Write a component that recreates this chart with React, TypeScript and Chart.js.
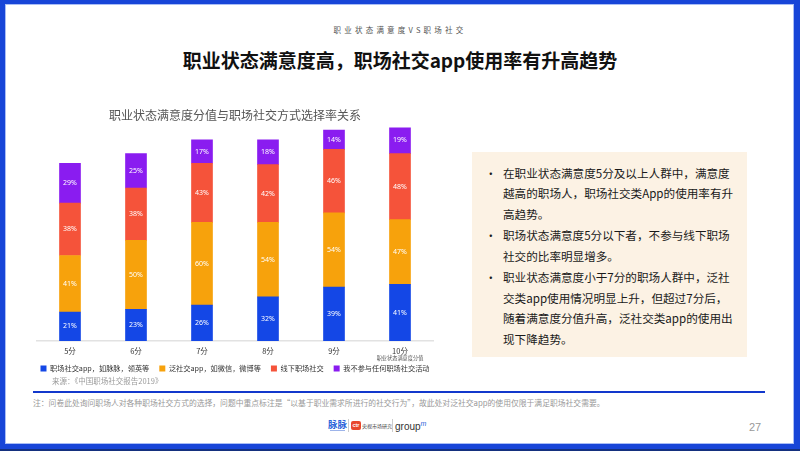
import React, { useEffect, useRef } from "react";
import { Chart, registerables } from "chart.js";

Chart.register(...registerables);

// ---- data ----
const categories = ["5分", "6分", "7分", "8分", "9分", "10分"];
const axisNote = "职业状态满意度分值";
const seriesNames = [
  "职场社交app，如脉脉，领英等",
  "泛社交app，如微信，微博等",
  "线下职场社交",
  "我不参与任何职场社交活动",
];
const professionalApp = [21, 23, 26, 32, 39, 41];
const generalApp = [41, 50, 60, 54, 54, 47];
const offlineSocial = [38, 38, 43, 42, 46, 48];
const noSocial = [29, 25, 17, 18, 14, 19];
const yMax = 155;

const chartTitle = "职业状态满意度分值与职场社交方式选择率关系";
const sourceText = "来源：《中国职场社交报告2019》";
const pageHeader = "职业状态满意度VS职场社交";
const mainTitle = "职业状态满意度高，职场社交app使用率有升高趋势";
const bulletParagraphs = [
  ["在职业状态满意度5分及以上人群中，满意度", "越高的职场人，职场社交类App的使用率有升", "高趋势。"],
  ["职场状态满意度5分以下者，不参与线下职场", "社交的比率明显增多。"],
  ["职业状态满意度小于7分的职场人群中，泛社", "交类app使用情况明显上升，但超过7分后，", "随着满意度分值升高，泛社交类app的使用出", "现下降趋势。"],
];
const noteText =
  "注：问卷此处询问职场人对各种职场社交方式的选择，问题中重点标注是“以基于职业需求所进行的社交行为”，故此处对泛社交app的使用仅限于满足职场社交需要。";
const pageNumber = "27";

// ---- styles ----
const seriesColors = ["#1447E6", "#F7A20C", "#F5533A", "#8A1CF0"];
const CJK = "'Noto Sans CJK SC', 'Noto Sans', sans-serif";
const SIDE = 17;

const valueLabelPlugin = {
  id: "valueLabels",
  afterDatasetsDraw(chart: any) {
    const ctx = chart.ctx;
    ctx.save();
    ctx.font = `7px 'Noto Sans', sans-serif`;
    ctx.fillStyle = "#ffffff";
    ctx.textAlign = "center";
    ctx.textBaseline = "middle";
    chart.data.datasets.forEach((ds: any, i: number) => {
      const meta = chart.getDatasetMeta(i);
      meta.data.forEach((bar: any, j: number) => {
        const p = bar.getProps(["x", "y", "base"], true);
        ctx.fillText(ds.data[j] + "%", p.x, (p.y + p.base) / 2);
      });
    });
    ctx.restore();
  },
};

const axisNotePlugin = {
  id: "axisNote",
  afterDraw(chart: any) {
    const xs = chart.scales.x;
    const ctx = chart.ctx;
    ctx.save();
    ctx.font = `5.2px ${CJK}`;
    ctx.fillStyle = "#555";
    ctx.textAlign = "center";
    ctx.textBaseline = "middle";
    const x = xs.getPixelForValue(categories.length - 1);
    ctx.fillText(axisNote, x, xs.bottom + 3.5);
    ctx.restore();
  },
};

const spacerAxis = (position: string, extra: any = {}) => ({
  position,
  display: true,
  grid: { display: false, drawTicks: false },
  border: { display: false },
  ticks: { display: false },
  afterFit: (s: any) => {
    s.width = SIDE;
  },
  ...extra,
});

function StackedChart() {
  const ref = useRef<HTMLCanvasElement | null>(null);
  useEffect(() => {
    if (!ref.current) return;
    const values = [professionalApp, generalApp, offlineSocial, noSocial];
    const chart = new Chart(ref.current, {
      type: "bar",
      data: {
        labels: categories,
        datasets: values.map((v, i) => ({
          label: seriesNames[i],
          data: v,
          backgroundColor: seriesColors[i],
          borderWidth: 0,
          barThickness: 21,
        })),
      },
      options: {
        responsive: false,
        animation: false,
        devicePixelRatio: 1,
        layout: { padding: 0 },
        plugins: {
          title: {
            display: true,
            text: chartTitle,
            color: "#555",
            font: { family: CJK, size: 12, weight: "normal" },
            padding: { top: 4, bottom: 5 },
          },
          legend: {
            position: "bottom",
            labels: {
              boxWidth: 6,
              boxHeight: 6,
              padding: 10,
              color: "#333",
              font: { family: CJK, size: 7.2 },
            },
          },
          tooltip: { enabled: false },
        },
        scales: {
          x: {
            stacked: true,
            grid: { display: false, drawTicks: false },
            border: { display: true, color: "#e2e2e2", width: 1.5 },
            ticks: { color: "#333", font: { family: CJK, size: 7.5 }, padding: 5.5 },
            afterFit: (s: any) => {
              s.height = 13.9;
            },
          },
          y: spacerAxis("left", { stacked: true, min: 0, max: yMax }),
          y2: spacerAxis("right", { min: 0, max: 1 }),
        },
      },
      plugins: [valueLabelPlugin, axisNotePlugin],
    } as any);
    return () => chart.destroy();
  }, []);
  return (
    <canvas
      ref={ref}
      width={396 + 2 * SIDE}
      height={278}
      style={{ position: "absolute", left: 37 - SIDE, top: 104, width: 396 + 2 * SIDE, height: 278, display: "block" }}
    />
  );
}

export default function App() {
  const lh = 20.5;
  return (
    <div
      style={{
        position: "fixed",
        left: 0,
        top: 0,
        width: 800,
        height: 451,
        background: "#fff",
        overflow: "hidden",
        fontFamily: CJK,
      }}
    >
      {/* header */}
      <div
        style={{
          position: "absolute",
          left: 0,
          width: 800,
          top: 24,
          lineHeight: "12px",
          fontSize: 7.5,
          letterSpacing: 3.2,
          textAlign: "center",
          color: "#555",
        }}
      >
        {pageHeader}
      </div>
      <div
        style={{
          position: "absolute",
          left: 0,
          width: 800,
          top: 48,
          lineHeight: "24px",
          fontSize: 19,
          fontWeight: 700,
          textAlign: "center",
          color: "#111",
        }}
      >
        {mainTitle}
      </div>

      <StackedChart />

      <div
        style={{
          position: "absolute",
          left: 52,
          top: 375,
          lineHeight: "11px",
          fontSize: 7.5,
          color: "#9a9a9a",
          whiteSpace: "nowrap",
        }}
      >
        {sourceText}
      </div>

      {/* right box */}
      <div
        style={{
          position: "absolute",
          left: 472,
          top: 152,
          width: 275,
          height: 205,
          background: "#FCF2E4",
        }}
      >
        <div style={{ position: "absolute", left: 0, top: 10.75, width: 275 }}>
          {bulletParagraphs.map((p, i) => (
            <div key={i} style={{ position: "relative", marginBottom: 1 }}>
              <div
                style={{
                  position: "absolute",
                  left: 13,
                  top: 0,
                  fontSize: 11.6,
                  lineHeight: lh + "px",
                  color: "#1a1a1a",
                }}
              >
                •
              </div>
              {p.map((line, k) => (
                <div
                  key={k}
                  style={{
                    marginLeft: 31,
                    fontSize: 11.6,
                    lineHeight: lh + "px",
                    color: "#1a1a1a",
                    whiteSpace: "nowrap",
                  }}
                >
                  {line}
                </div>
              ))}
            </div>
          ))}
        </div>
      </div>

      {/* footer */}
      <div style={{ position: "absolute", left: 33, top: 391, width: 732, height: 2, background: "#1238CC" }} />
      <div
        style={{
          position: "absolute",
          left: 33,
          top: 398,
          lineHeight: "10px",
          fontSize: 7.8,
          color: "#999",
          whiteSpace: "nowrap",
        }}
      >
        {noteText}
      </div>

      {/* logos */}
      <div style={{ position: "absolute", left: 328, top: 418, fontSize: 9.5, lineHeight: "12px", color: "#2A62D9", fontWeight: 700 }}>
        脉脉
      </div>
      <div style={{ position: "absolute", left: 330, top: 430, width: 15, height: 1, background: "#9db4ea" }} />
      <div style={{ position: "absolute", left: 348, top: 419, width: 1, height: 13, background: "#ccc" }} />
      <div
        style={{
          position: "absolute",
          left: 351,
          top: 421,
          width: 10,
          height: 9,
          borderRadius: 2,
          background: "#E8462C",
          color: "#fff",
          fontSize: 5.5,
          lineHeight: "9px",
          textAlign: "center",
          fontFamily: "'Liberation Sans', sans-serif",
          fontWeight: 700,
        }}
      >
        ctr
      </div>
      <div style={{ position: "absolute", left: 362, top: 422, fontSize: 5, lineHeight: "7px", color: "#444", whiteSpace: "nowrap" }}>
        央视市场研究
      </div>
      <div style={{ position: "absolute", left: 392, top: 419, width: 1, height: 13, background: "#ccc" }} />
      <div
        style={{
          position: "absolute",
          left: 395,
          top: 418,
          fontSize: 10,
          lineHeight: "12px",
          color: "#333",
          fontFamily: "'Liberation Sans', sans-serif",
          whiteSpace: "nowrap",
        }}
      >
        group<sup style={{ fontSize: 7, color: "#2A62D9", fontStyle: "italic" }}>m</sup>
      </div>

      <div
        style={{
          position: "absolute",
          left: 749,
          top: 420,
          fontSize: 11,
          lineHeight: "14px",
          color: "#999",
          fontFamily: "'Liberation Sans', sans-serif",
        }}
      >
        {pageNumber}
      </div>

      {/* frame */}
      <div
        style={{
          position: "absolute",
          left: 0,
          top: 0,
          width: 800,
          height: 451,
          boxSizing: "border-box",
          borderStyle: "solid",
          borderColor: "#1745D8",
          borderWidth: "4px 6px 7px 5px",
          boxShadow: "inset 0 0 0 1px #a9bdf5",
          pointerEvents: "none",
        }}
      />
      <div style={{ position: "absolute", left: 0, top: 449, width: 800, height: 2, background: "#14307E" }} />
    </div>
  );
}
